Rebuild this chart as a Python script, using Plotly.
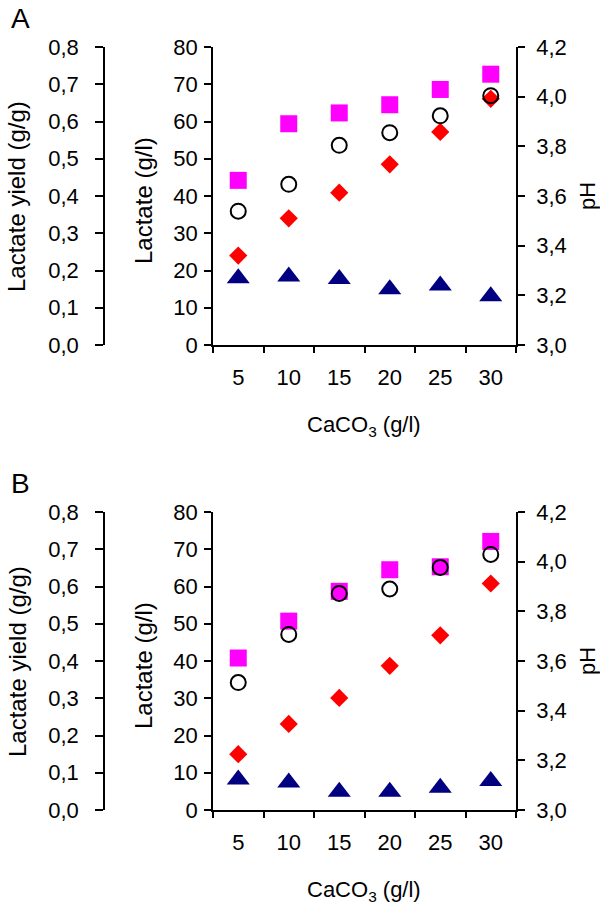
import plotly.graph_objects as go

# CaCO3 concentrations (g/l)
caco3 = ['5', '10', '15', '20', '25', '30']

# panel A
a_yield = [0.442, 0.594, 0.623, 0.645, 0.686, 0.727]      # squares, g/g
a_ph = [3.539, 3.647, 3.804, 3.855, 3.923, 4.004]          # open circles
a_lactate = [24.0, 34.0, 40.9, 48.5, 57.2, 66.1]           # diamonds, g/l
a_other = [17.9, 18.4, 17.7, 15.0, 16.0, 13.1]             # triangles, g/l

# panel B
b_yield = [0.408, 0.507, 0.587, 0.645, 0.653, 0.721]
b_ph = [3.513, 3.707, 3.872, 3.890, 3.977, 4.029]
b_lactate = [15.0, 23.1, 30.1, 38.7, 46.9, 60.8]
b_other = [8.2, 7.4, 4.9, 4.9, 6.0, 7.8]

W, H = 600, 908
FONT = "Liberation Sans, Arial, Helvetica, sans-serif"
TICKFONT = dict(family=FONT, size=22, color="black")


def px_x(p):
    return p / W


def px_y(p):
    return 1 - p / H


fig = go.Figure()

panels = [
    # (yield, pH, lactate, other, top px, bottom px, x-axis, lactate y, yield y, pH y)
    (a_yield, a_ph, a_lactate, a_other, 47, 345, 'x', 'y', 'y2', 'y3'),
    (b_yield, b_ph, b_lactate, b_other, 512, 810, 'x2', 'y4', 'y5', 'y6'),
]

for yl, ph, lac, oth, top, bot, xa, ylac, yyld, yph in panels:
    fig.add_trace(go.Scatter(x=caco3, y=oth, xaxis=xa, yaxis=ylac, mode='markers',
                             marker=dict(symbol='triangle-up', size=20, color='#000080')))
    fig.add_trace(go.Scatter(x=caco3, y=yl, xaxis=xa, yaxis=yyld, mode='markers',
                             marker=dict(symbol='square', size=17, color='#FF00FF')))
    fig.add_trace(go.Scatter(x=caco3, y=lac, xaxis=xa, yaxis=ylac, mode='markers',
                             marker=dict(symbol='diamond', size=14, color='#FF0000')))
    fig.add_trace(go.Scatter(x=caco3, y=ph, xaxis=xa, yaxis=yph, mode='markers',
                             marker=dict(symbol='circle-open', size=15, color='black',
                                         line=dict(width=2, color='black'))))

axis_common = dict(showgrid=False, zeroline=False, showline=True, linecolor='black',
                   linewidth=1.6, ticks='outside', tickcolor='black', tickwidth=1.6,
                   tickfont=TICKFONT, automargin=False, fixedrange=True)

xdom = [px_x(213), px_x(516)]
layout = dict(width=W, height=H, margin=dict(l=0, r=0, t=0, b=0),
              paper_bgcolor='white', plot_bgcolor='white', showlegend=False,
              separators=',.', font=dict(family=FONT, size=22, color='black'))

for i, (_, _, _, _, top, bot, xa, ylac, yyld, yph) in enumerate(panels):
    ydom = [px_y(bot), px_y(top)]
    xk = 'xaxis' + xa[1:]
    layout[xk] = dict(axis_common, domain=xdom, anchor=ylac, type='category',
                      tickson='boundaries', ticklen=6, ticklabelstandoff=12,
                      range=[-0.5, 5.5])
    layout['yaxis' + ylac[1:]] = dict(axis_common, domain=ydom, anchor=xa,
                                      range=[0, 80], dtick=10, tick0=0, ticklen=7,
                                      ticklabelstandoff=2)
    layout['yaxis' + yyld[1:]] = dict(axis_common, overlaying=ylac, anchor='free',
                                      position=px_x(104), range=[0, 0.8], dtick=0.1,
                                      tick0=0, tickformat='.1f', ticklen=8,
                                      ticklabelstandoff=12)
    layout['yaxis' + yph[1:]] = dict(axis_common, overlaying=ylac, anchor=xa,
                                     side='right', range=[3.0, 4.2], dtick=0.2,
                                     tick0=3.0, tickformat='.1f', ticklen=7,
                                     ticklabelstandoff=7)

fig.update_layout(**layout)

annos = []
for letter, top, bot, ly in [('A', 47, 345, 18), ('B', 512, 810, 483)]:
    mid = (top + bot) / 2
    annos += [
        dict(text=letter, x=px_x(20), y=px_y(ly), font=dict(size=28)),
        dict(text='Lactate yield (g/g)', x=px_x(17), y=px_y(mid + 1), textangle=-90,
             font=dict(size=24)),
        dict(text='Lactate (g/l)', x=px_x(143), y=px_y(mid + 5), textangle=-90,
             font=dict(size=24)),
        dict(text='pH', x=px_x(587), y=px_y(mid), textangle=-90, font=dict(size=22)),
        dict(text='CaCO<sub>3</sub> (g/l)', x=px_x(364), y=px_y(bot + 81)),
    ]
for a in annos:
    a.update(xref='paper', yref='paper', showarrow=False,
             xanchor='center', yanchor='middle')
    a.setdefault('font', dict(size=22))
    a['font'].update(family=FONT, color='black')
fig.update_layout(annotations=annos)

fig.write_html("out.html", config={'displayModeBar': False},
               post_script="document.body.style.margin='0';document.body.style.overflow='hidden';")
